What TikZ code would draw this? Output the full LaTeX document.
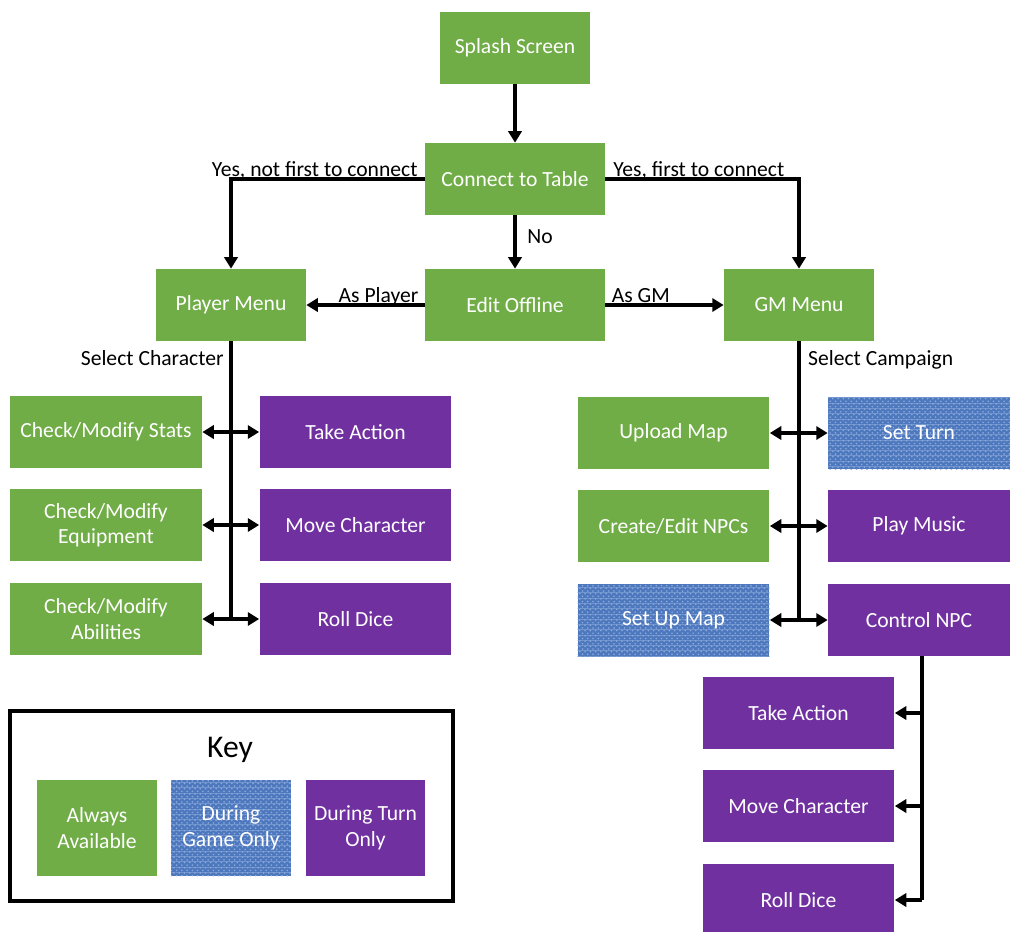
\documentclass[tikz,border=0pt]{standalone}
\usepackage{fontspec}
\setmainfont{Carlito}
\usetikzlibrary{positioning,calc,patterns,arrows.meta}

\definecolor{boxgreen}{HTML}{70AD47}
\definecolor{boxpurple}{HTML}{7030A0}
\definecolor{boxblue}{HTML}{4E78BE}
\definecolor{texblue}{HTML}{9DB8E4}

\tikzset{
  base/.style={rectangle, text=white, align=center, inner sep=2pt,
    font=\fontsize{12.3}{14.5}\selectfont},
  always/.style={base, fill=boxgreen},
  turn/.style={base, fill=boxpurple},
  game/.style={base, fill=boxblue,
    postaction={pattern=horizontal lines, pattern color=texblue!45!boxblue},
    postaction={pattern=crosshatch dots, pattern color=texblue!80!boxblue}},
  menu/.style={minimum width=3cm, minimum height=1.44cm},
  hub/.style={minimum width=3.6cm, minimum height=1.44cm},
  item/.style={minimum width=3.84cm, minimum height=1.44cm},
  keybox/.style={minimum width=2.4cm, minimum height=1.92cm},
  lbl/.style={font=\fontsize{12.3}{14.5}\selectfont, inner sep=1pt},
  trunk/.style={line width=2.2pt},
  link/.style={line width=2.2pt, -{Triangle[length=6.5pt,width=7.5pt]}},
  twoway/.style={line width=2.2pt, {Triangle[length=6.5pt,width=7.5pt]}-{Triangle[length=6.5pt,width=7.5pt]}}
}

\begin{document}
\begin{tikzpicture}[x=0.02cm, y=-0.02cm]
\useasboundingbox (0,0) rectangle (1010,931);
\clip (0,0) rectangle (1010,931);

% start
\node[always, menu] (splash) at (515,48) {Splash Screen};
\node[always, hub] (connect) at (515,179) {Connect to Table};
\node[always, hub] (offline) at (515,305) {Edit Offline};
\node[always, menu] (pmenu) at (231,305) {Player Menu};
\node[always, menu] (gmenu) at (799,305) {GM Menu};

\draw[link] (splash) -- (connect);
\draw[link] (connect.west) -| (pmenu.north);
\draw[link] (connect.east) -| (gmenu.north);
\draw[link] (connect) -- node[lbl, right=5pt, pos=0.39] {No} (offline);
\draw[link] (offline.west) -- node[lbl, anchor=base, yshift=1.4pt, pos=0.39] {As Player} (pmenu.east);
\draw[link] (offline.east) -- node[lbl, anchor=base, yshift=1.4pt, pos=0.3] {As GM} (gmenu.west);
\node[lbl, anchor=base east, xshift=-0.1cm, yshift=1.6pt] at (connect.west) {Yes, not first to connect};
\node[lbl, anchor=base west, xshift=0.12cm, yshift=1.4pt] at (connect.east) {Yes, first to connect};

% player side
\node[lbl, below left=4pt and 3pt] at (pmenu.south) {Select Character};
\node[always, item] (stats) at (106,432) {Check/Modify Stats};
\node[always, item] (equip) at (106,525) {Check/Modify\\Equipment};
\node[always, item] (abil) at (106,619) {Check/Modify\\Abilities};
\node[turn, item] (tact) at (355.5,432) {Take Action};
\node[turn, item] (move) at (355.5,525) {Move Character};
\node[turn, item] (roll) at (355.5,619) {Roll Dice};

\draw[trunk] (pmenu.south) -- (pmenu.south |- abil.center);
\foreach \a/\b in {stats/tact, equip/move, abil/roll}
  \draw[twoway] (\a) -- (\b);

% GM side
\node[lbl, below right=4pt and 4pt] at (gmenu.south) {Select Campaign};
\node[always, item] (upload) at (673.5,433) {Upload Map};
\node[always, item] (npcs) at (673.5,526) {Create/Edit NPCs};
\node[game, item] (setup) at (673.5,620) {Set Up Map};
\node[game, item, minimum width=3.64cm] (setturn) at (919,433) {Set Turn};
\node[turn, item, minimum width=3.64cm] (music) at (919,526) {Play Music};
\node[turn, item, minimum width=3.64cm] (cnpc) at (919,620) {Control NPC};

\draw[trunk] (gmenu.south) -- (gmenu.south |- setup.center);
\foreach \a/\b in {upload/setturn, npcs/music, setup/cnpc}
  \draw[twoway] (\a) -- (\b);

% NPC actions
\node[turn, item] (tact2) at (798.5,713) {Take Action};
\node[turn, item] (move2) at (798.5,806) {Move Character};
\node[turn, item] (roll2) at (798.5,900) {Roll Dice};
\coordinate (drop) at ([xshift=0.06cm]cnpc.south);
\draw[trunk] (drop) -- (drop |- roll2.center);
\foreach \n in {tact2, move2, roll2}
  \draw[link] (drop |- \n.center) -- (\n.east);

% key
\node[draw, line width=2.2pt, minimum width=8.86cm, minimum height=3.8cm] (keyframe) at (231.5,806) {};
\node[font=\fontsize{18}{21}\selectfont] (keytitle) at (230,750) {Key};
\node[always, keybox] (kalways) at (97,828) {Always\\Available};
\node[game, keybox] (kgame) at (231,828) {During\\Game Only};
\node[turn, keybox] (kturn) at (365.5,828) {During Turn\\Only};
\end{tikzpicture}
\end{document}
